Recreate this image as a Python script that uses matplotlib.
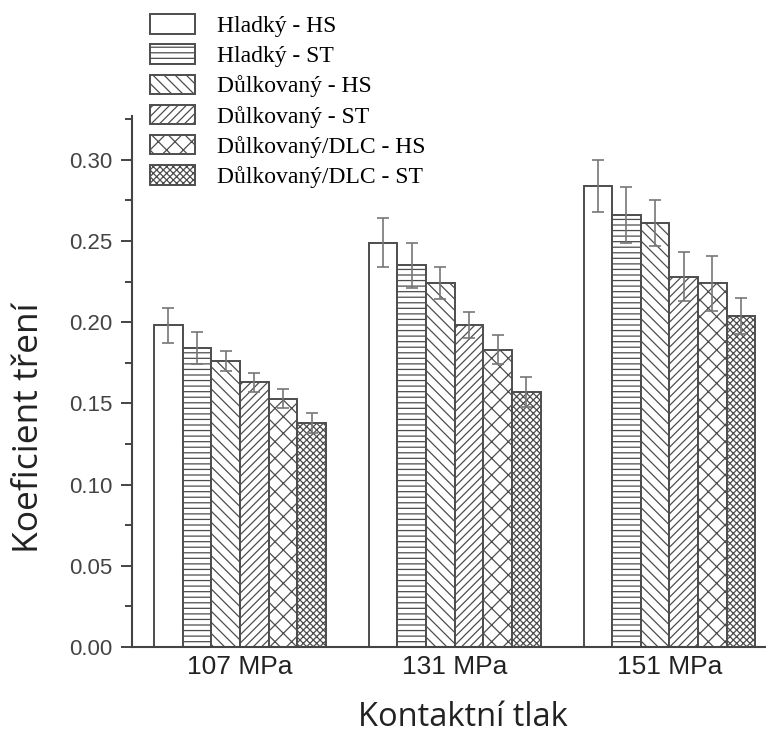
import numpy as np
import matplotlib.pyplot as plt

# data
categories = ['107 MPa', '131 MPa', '151 MPa']
series = ['Hladký - HS', 'Hladký - ST', 'Důlkovaný - HS', 'Důlkovaný - ST',
          'Důlkovaný/DLC - HS', 'Důlkovaný/DLC - ST']
values = [
    [0.198, 0.249, 0.284],
    [0.184, 0.235, 0.266],
    [0.176, 0.224, 0.261],
    [0.163, 0.198, 0.228],
    [0.153, 0.183, 0.224],
    [0.138, 0.157, 0.204],
]
errors = [
    [0.011, 0.015, 0.016],
    [0.010, 0.014, 0.017],
    [0.006, 0.010, 0.014],
    [0.006, 0.008, 0.015],
    [0.006, 0.009, 0.017],
    [0.006, 0.009, 0.011],
]
hatches = ['', '---', '\\\\\\', '////', 'xx', 'xxxxx']

plt.rcParams['hatch.color'] = '#666666'
plt.rcParams['hatch.linewidth'] = 0.9
plt.rcParams['font.family'] = ['Liberation Sans', 'DejaVu Sans']

fig = plt.figure(figsize=(7.66, 7.33), dpi=100)
ax = fig.add_axes([132 / 766, 1 - 647 / 733, 1 - 132 / 766, (647 - 116) / 733])

x = np.arange(len(categories))
n = len(series)
width = 0.8 / n
handles = []
for i in range(n):
    pos = x - 0.4 + width * (i + 0.5)
    b = ax.bar(pos, values[i], width, color='white', edgecolor='#4d4d4d',
               linewidth=1.4, hatch=hatches[i], label=series[i], zorder=2)
    ax.errorbar(pos, values[i], yerr=errors[i], fmt='none', ecolor='#777777',
                elinewidth=1.2, capsize=4, capthick=1.2, zorder=3)
    handles.append(b)

ax.set_xlim(-0.503, 2.45)
ax.set_ylim(0, 0.327)
ax.set_yticks(np.arange(0, 0.31, 0.05))
ax.set_yticks(np.arange(0.025, 0.33, 0.05), minor=True)
ax.set_yticklabels(['%.2f' % v for v in np.arange(0, 0.31, 0.05)])
ax.set_xticks(x)
ax.set_xticklabels(categories)
ax.tick_params(axis='x', length=0, labelsize=19, pad=6, colors='#222222')
ax.tick_params(axis='y', which='major', length=8, width=1.4, labelsize=16,
               colors='#444444', labelcolor='#444444', pad=6)
ax.tick_params(axis='y', which='minor', length=5, width=1.4, colors='#444444')
for s in ['top', 'right']:
    ax.spines[s].set_visible(False)
for s in ['left', 'bottom']:
    ax.spines[s].set_color('#444444')
    ax.spines[s].set_linewidth(1.5)

fig.text(29 / 766, 1 - 428 / 733, 'Koeficient tření', rotation=90,
         ha='center', va='center', fontsize=25.5, color='#222222',
         family='Open Sans')
fig.text(463 / 766, 1 - 718 / 733, 'Kontaktní tlak', ha='center',
         va='center', fontsize=23.5, color='#222222', family='Open Sans')

fig.legend(handles=handles, labels=series, loc='upper left',
           bbox_to_anchor=(136 / 766, 1.0), frameon=False,
           prop={'family': 'Liberation Serif', 'size': 17},
           handlelength=1.9, handleheight=0.89, labelspacing=0.31,
           handletextpad=0.95, borderaxespad=0.2)

fig.savefig('out.png', dpi=100)
